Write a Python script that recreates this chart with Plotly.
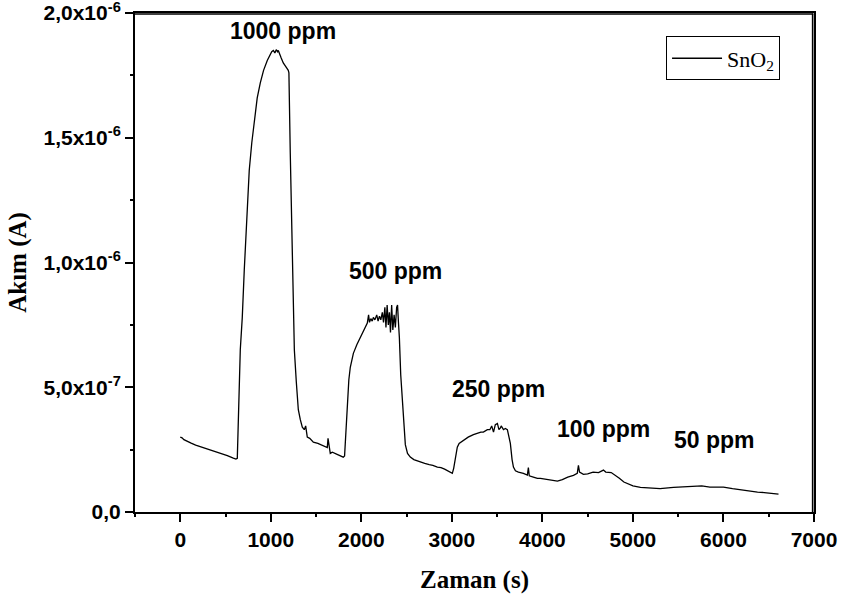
import numpy as np
import plotly.graph_objects as go

# Time (s)
time_s = [0, 20, 40, 75, 120, 170, 220, 280, 340, 405, 460, 520, 586, 615, 630,
          645, 663, 685, 696, 707, 718, 740, 762, 790, 818, 850, 884, 920, 961, 995,
          1010, 1028, 1045, 1060, 1075, 1083, 1100, 1115, 1138, 1160, 1175, 1193, 1200,
          1215, 1238, 1249, 1260, 1282, 1304, 1326, 1348, 1370, 1385, 1395, 1403, 1430,
          1470, 1520, 1570, 1610, 1624, 1632, 1645, 1657, 1680, 1710, 1740, 1770, 1800,
          1815, 1830, 1845, 1862, 1878, 1895, 1912, 1950, 1989, 2030, 2066, 2080, 2090,
          2105, 2120, 2133, 2150, 2170, 2185, 2200, 2215, 2232, 2245, 2260, 2272, 2285,
          2298, 2310, 2322, 2335, 2348, 2362, 2376, 2390, 2400, 2410, 2420, 2435, 2453,
          2470, 2486, 2510, 2541, 2580, 2615, 2652, 2700, 2750, 2790, 2840, 2880, 2920,
          2960, 2983, 3005, 3020, 3040, 3060, 3080, 3100, 3116, 3140, 3180, 3238, 3280,
          3320, 3348, 3392, 3420, 3440, 3460, 3480, 3503, 3520, 3536, 3545, 3570, 3590,
          3613, 3630, 3646, 3665, 3680, 3702, 3735, 3790, 3834, 3845, 3855, 3900, 3945,
          3978, 4050, 4110, 4166, 4220, 4280, 4343, 4385, 4398, 4410, 4453, 4500, 4560,
          4620, 4674, 4700, 4760, 4807, 4850, 4900, 4939, 5000, 5083, 5200, 5300, 5448,
          5600, 5713, 5760, 5850, 5950, 6000, 6100, 6200, 6300, 6376, 6450, 6530, 6608]

# Current (x1e-6 A)
current_uA = [0.300, 0.297, 0.290, 0.283, 0.276, 0.268, 0.262, 0.257, 0.250, 0.242, 0.234, 0.226, 0.216, 0.212, 0.215,
              0.38, 0.65, 0.78, 0.92, 0.97, 1.05, 1.22, 1.37, 1.48, 1.57, 1.66, 1.72, 1.77, 1.81, 1.835,
              1.845, 1.85, 1.84, 1.853, 1.845, 1.85, 1.83, 1.82, 1.80, 1.79, 1.78, 1.77, 1.76,
              1.44, 1.05, 0.78, 0.65, 0.52, 0.41, 0.37, 0.34, 0.33, 0.345, 0.32, 0.30, 0.295,
              0.28, 0.275, 0.268, 0.26, 0.258, 0.295, 0.26, 0.235, 0.24, 0.235, 0.232, 0.228, 0.22,
              0.225, 0.33, 0.45, 0.53, 0.58, 0.615, 0.636, 0.67, 0.70, 0.73, 0.757, 0.79, 0.76,
              0.775, 0.765, 0.78, 0.77, 0.79, 0.765, 0.785, 0.77, 0.80, 0.76, 0.82, 0.74, 0.83,
              0.75, 0.80, 0.72, 0.83, 0.73, 0.79, 0.74, 0.82, 0.83, 0.76, 0.70, 0.55, 0.45,
              0.34, 0.27, 0.235, 0.22, 0.21, 0.205, 0.20, 0.195, 0.19, 0.187, 0.18, 0.178, 0.172,
              0.165, 0.16, 0.155, 0.175, 0.22, 0.26, 0.275, 0.28, 0.285, 0.29, 0.30, 0.31, 0.315,
              0.32, 0.32, 0.33, 0.33, 0.345, 0.32, 0.35, 0.355, 0.33, 0.337, 0.345, 0.33, 0.335,
              0.33, 0.30, 0.275, 0.21, 0.18, 0.165, 0.16, 0.155, 0.148, 0.178, 0.145, 0.14, 0.135,
              0.135, 0.13, 0.128, 0.124, 0.13, 0.14, 0.147, 0.155, 0.187, 0.16, 0.151, 0.153, 0.16,
              0.158, 0.168, 0.16, 0.158, 0.147, 0.135, 0.12, 0.115, 0.105, 0.099, 0.095, 0.094, 0.099,
              0.102, 0.107, 0.105, 0.100, 0.098, 0.100, 0.094, 0.088, 0.084, 0.080, 0.078, 0.075, 0.072]

current_A = np.array(current_uA) * 1e-6

# Labels
label_texts = ["1000 ppm", "500 ppm", "250 ppm", "100 ppm", "50 ppm"]
label_x = [1138, 2381, 3514, 4674, 5901]
label_y = [1.927e-6, 0.967e-6, 0.493e-6, 0.332e-6, 0.288e-6]

x_tickvals = [0, 1000, 2000, 3000, 4000, 5000, 6000, 7000]
x_ticktext = ["<b>0</b>", "<b>1000</b>", "<b>2000</b>", "<b>3000</b>", "<b>4000</b>",
              "<b>5000</b>", "<b>6000</b>", "<b>7000</b>"]
x_minor_vals = [-500, 500, 1500, 2500, 3500, 4500, 5500, 6500]
y_tickvals = [0, 0.5e-6, 1.0e-6, 1.5e-6, 2.0e-6]
y_ticktext = ["<b>0,0</b>", "<b>5,0x10<sup>-7</sup></b>", "<b>1,0x10<sup>-6</sup></b>",
              "<b>1,5x10<sup>-6</sup></b>", "<b>2,0x10<sup>-6</sup></b>"]
y_minor_vals = [0.25e-6, 0.75e-6, 1.25e-6, 1.75e-6]

x_range = [-500, 7000]
y_range = [0, 2.0e-6]

fig = go.Figure()
fig.add_trace(go.Scatter(x=time_s, y=current_A, mode="lines", name="SnO<sub>2</sub>",
                         line=dict(color="black", width=1.3)))
# empty helper trace so the minor-tick axes are drawn
fig.add_trace(go.Scatter(x=[], y=[], xaxis="x2", yaxis="y2", showlegend=False, hoverinfo="skip"))

for t, xv, yv in zip(label_texts, label_x, label_y):
    fig.add_annotation(x=xv, y=yv, text="<b>" + t + "</b>", showarrow=False,
                       font=dict(family="Liberation Sans, Arial", size=23, color="black"))

# top and right frame lines, drawn just inside the plot edge
fig.add_shape(type="line", xref="paper", yref="paper", x0=0, x1=0.999, y0=0.998, y1=0.998,
              line=dict(color="black", width=1.6), layer="above")
fig.add_shape(type="line", xref="paper", yref="paper", x0=0.998, x1=0.998, y0=0, y1=0.999,
              line=dict(color="black", width=1.6), layer="above")

tick_font = dict(family="Liberation Sans, Arial", size=21, color="black")
title_font = dict(family="Liberation Serif, Times New Roman", size=25, color="black")

fig.update_layout(
    width=842, height=601,
    margin=dict(l=135, r=28, t=13, b=89, autoexpand=False),
    paper_bgcolor="white", plot_bgcolor="white",
    showlegend=True,
    legend=dict(x=0.95, xanchor="right", y=0.953, yanchor="top",
                bordercolor="black", borderwidth=1, bgcolor="white",
                itemwidth=50,
                font=dict(family="Liberation Serif, Times New Roman", size=22, color="black")),
    xaxis=dict(range=x_range, tickvals=x_tickvals, ticktext=x_ticktext, automargin=False,
               ticks="outside", ticklen=8, tickwidth=1.5, tickcolor="black",
               showline=True, linecolor="black", linewidth=2, mirror=True,
               showgrid=False, zeroline=False, ticklabeloverflow="allow",
               tickfont=tick_font,
               title=dict(text="<b>Zaman (s)</b>", standoff=20, font=title_font)),
    yaxis=dict(range=y_range, tickvals=y_tickvals, ticktext=y_ticktext, automargin=False,
               ticks="outside", ticklen=8, tickwidth=1.5, tickcolor="black",
               showline=True, linecolor="black", linewidth=2, mirror=True,
               showgrid=False, zeroline=False, ticklabeloverflow="allow",
               tickfont=tick_font,
               title=dict(text="<b>Akım (A)</b>", standoff=10, font=title_font)),
    xaxis2=dict(overlaying="x", anchor="y2", side="bottom", range=x_range, automargin=False,
                tickvals=x_minor_vals, showticklabels=False,
                ticks="outside", ticklen=4, tickwidth=1.5, tickcolor="black",
                showline=False, showgrid=False, zeroline=False),
    yaxis2=dict(overlaying="y", anchor="x2", side="left", range=y_range, automargin=False,
                tickvals=y_minor_vals, showticklabels=False,
                ticks="outside", ticklen=4, tickwidth=1.5, tickcolor="black",
                showline=False, showgrid=False, zeroline=False),
)

fig.write_html("out.html", config={"displayModeBar": False},
               post_script="document.body.style.margin='0px';document.body.style.overflow='hidden';")
